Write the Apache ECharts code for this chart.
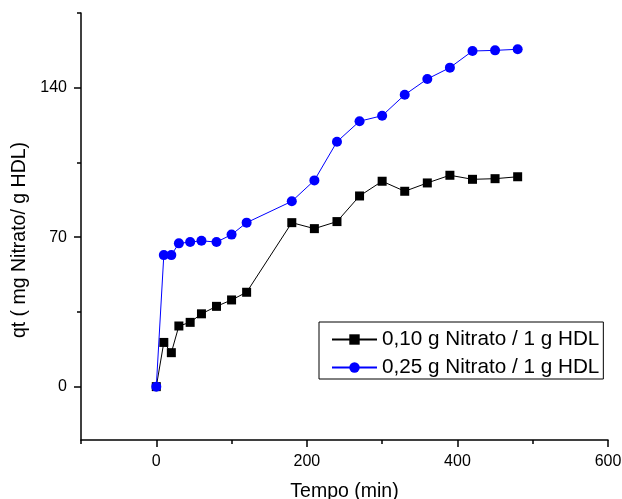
<!DOCTYPE html>
<html>
<head>
<meta charset="utf-8">
<script src="https://cdn.jsdelivr.net/npm/echarts@6/dist/echarts.min.js"></script>
<style>
  html, body { margin: 0; padding: 0; background: #fff; }
  #chart { width: 622px; height: 499px; }
</style>
</head>
<body>
<div id="chart"></div>
<script>
// Contact time (min)
const tempo = [0, 10, 20, 30, 45, 60, 80, 100, 120, 180, 210, 240, 270, 300, 330, 360, 390, 420, 450, 480];
// qt for 0,10 g nitrate per 1 g HDL
const qt010 = [0, 20.7, 15.9, 28.4, 30.1, 34.1, 37.6, 40.6, 44.2, 76.8, 74.0, 77.3, 89.3, 96.2, 91.5, 95.4, 99.0, 97.1, 97.4, 98.3];
// qt for 0,25 g nitrate per 1 g HDL
const qt025 = [0, 61.6, 61.6, 67.1, 67.7, 68.3, 67.7, 71.2, 76.8, 86.8, 96.6, 114.7, 124.3, 126.9, 136.7, 144.1, 149.4, 157.2, 157.5, 158.0];

const seriesNames = ['0,10 g Nitrato / 1 g HDL', '0,25 g Nitrato / 1 g HDL'];
const xMajorTicks = [0, 200, 400, 600];
const xMinorTicks = [-100, 100, 300, 500];
const yMajorTicks = [0, 70, 140];
const yMinorTicks = [35, 105, 175];

const FONT = '"Liberation Sans", Arial, sans-serif';

function pairs(xs, ys) {
  return xs.map((x, i) => [x, ys[i]]);
}

const chart = echarts.init(document.getElementById('chart'), null, { renderer: 'canvas' });

const axisLineStyle = { color: '#000', width: 1.5 };

chart.setOption({
  animation: false,
  backgroundColor: '#fff',
  grid: { left: 81, right: 14, top: 13, bottom: 59, containLabel: false, outerBoundsMode: 'none' },
  legend: {
    orient: 'vertical',
    left: 319,
    top: 322,
    data: seriesNames,
    itemWidth: 45,
    itemHeight: 13,
    itemGap: 7,
    padding: [7, 4, 1, 12],
    borderColor: '#000',
    borderWidth: 1,
    textStyle: { fontFamily: FONT, fontSize: 20.7, color: '#000', lineHeight: 20 }
  },
  xAxis: [
    {
      type: 'value',
      min: -100,
      max: 600,
      interval: 100,
      name: 'Tempo (min)',
      nameLocation: 'middle',
      nameGap: 42,
      nameTextStyle: { fontFamily: FONT, fontSize: 19.5, color: '#000' },
      axisLine: { show: true, onZero: false, lineStyle: axisLineStyle },
      axisTick: { show: true, inside: false, length: 7, customValues: xMajorTicks, lineStyle: axisLineStyle },
      axisLabel: { show: true, margin: 14, customValues: xMajorTicks, fontFamily: FONT, fontSize: 16, color: '#000' },
      splitLine: { show: false }
    },
    {
      type: 'value',
      min: -100,
      max: 600,
      interval: 100,
      position: 'bottom',
      axisLine: { show: false, onZero: false },
      axisTick: { show: true, inside: false, length: 4, customValues: xMinorTicks, lineStyle: axisLineStyle },
      axisLabel: { show: false },
      splitLine: { show: false }
    }
  ],
  yAxis: [
    {
      type: 'value',
      min: -25,
      max: 175,
      interval: 25,
      name: 'qt ( mg Nitrato/ g HDL)',
      nameLocation: 'middle',
      nameGap: 48,
      nameRotate: 90,
      nameTextStyle: { fontFamily: FONT, fontSize: 19.5, color: '#000', padding: [0, 27, 0, 0] },
      axisLine: { show: true, onZero: false, lineStyle: axisLineStyle },
      axisTick: { show: true, inside: false, length: 7, customValues: yMajorTicks, lineStyle: axisLineStyle },
      axisLabel: { show: true, margin: 14, customValues: yMajorTicks, fontFamily: FONT, fontSize: 16, color: '#000' },
      splitLine: { show: false }
    },
    {
      type: 'value',
      min: -25,
      max: 175,
      interval: 25,
      position: 'left',
      axisLine: { show: false, onZero: false },
      axisTick: { show: true, inside: false, length: 4, customValues: yMinorTicks, lineStyle: axisLineStyle },
      axisLabel: { show: false },
      splitLine: { show: false }
    }
  ],
  series: [
    {
      name: seriesNames[0],
      type: 'line',
      xAxisIndex: 0,
      yAxisIndex: 0,
      data: pairs(tempo, qt010),
      symbol: 'rect',
      symbolSize: 9,
      lineStyle: { color: '#000', width: 1 },
      itemStyle: { color: '#000' },
      z: 2
    },
    {
      name: seriesNames[1],
      type: 'line',
      xAxisIndex: 0,
      yAxisIndex: 0,
      data: pairs(tempo, qt025),
      symbol: 'circle',
      symbolSize: 10,
      lineStyle: { color: '#0000ff', width: 1 },
      itemStyle: { color: '#0000ff' },
      z: 3
    }
  ]
});
</script>
</body>
</html>
